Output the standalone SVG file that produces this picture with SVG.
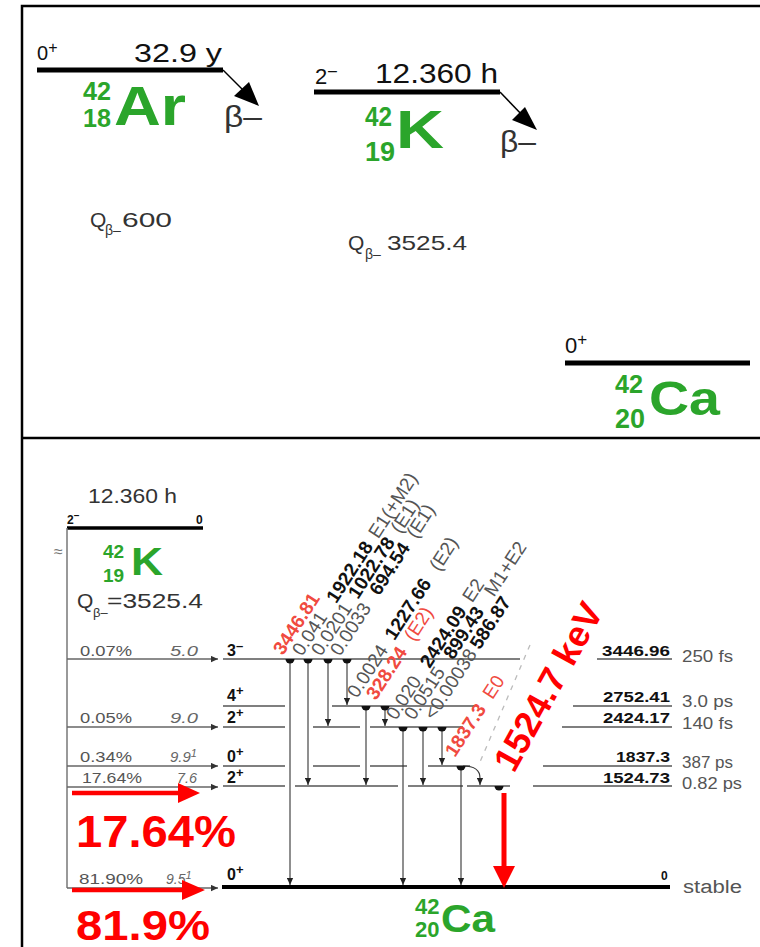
<svg xmlns="http://www.w3.org/2000/svg" width="760" height="947" viewBox="0 0 760 947">
<style>
text{font-family:"Liberation Sans",Arial,Helvetica,sans-serif}
.k{fill:#111}
.g{fill:#2ba52b;font-weight:bold}
.gr{fill:#555}
.b{font-weight:bold;fill:#111}
.it{font-style:italic;fill:#666}
.rd{fill:#f04a40}
.rdb{fill:#f04a40;font-weight:bold}
.RD{fill:#ff0000;font-weight:bold}
.lv{stroke:#555;stroke-width:1.6;fill:none}
.tr{stroke:#333;stroke-width:1.1;fill:none}
.fd{stroke:#666;stroke-width:1.4;fill:none}
.thick{stroke:#000;stroke-width:5;fill:none}
</style>
<defs>
<marker id="ah" viewBox="0 0 10 10" refX="10" refY="5" markerWidth="8" markerHeight="7" markerUnits="userSpaceOnUse" orient="auto"><path d="M0,0.5 L10,5 L0,9.5z" fill="#222"/></marker>
<marker id="fa" viewBox="0 0 10 10" refX="10" refY="5" markerWidth="9" markerHeight="7" markerUnits="userSpaceOnUse" orient="auto"><path d="M0,0.5 L10,5 L0,9.5z" fill="#333"/></marker>
</defs>
<rect width="760" height="947" fill="#fff"/>
<path d="M22,947 V6 H760 M22,438 H760" stroke="#000" stroke-width="2.5" fill="none"/>

<!-- top panel -->
<g id="ar42">
<line x1="37" y1="70" x2="223" y2="70" class="thick"/>
<text x="37" y="60" font-size="20" class="k">0<tspan dy="-7" font-size="16">+</tspan></text>
<text x="134" y="62" font-size="26" class="k" textLength="88" lengthAdjust="spacingAndGlyphs">32.9 y</text>
<text x="83" y="100" font-size="26" class="g" textLength="28" lengthAdjust="spacingAndGlyphs">42</text>
<text x="83" y="127" font-size="26" class="g" textLength="28" lengthAdjust="spacingAndGlyphs">18</text>
<text x="114" y="125" font-size="56" class="g" textLength="72" lengthAdjust="spacingAndGlyphs">Ar</text>
<text x="90" y="227" font-size="21" fill="#333">Q</text>
<text x="105" y="235" font-size="14" fill="#333">β–</text>
<text x="122" y="227" font-size="21" fill="#333" textLength="50" lengthAdjust="spacingAndGlyphs">600</text>
</g>
<g id="k42top">
<line x1="314" y1="92" x2="500" y2="92" class="thick"/>
<text x="315" y="84" font-size="22" class="k">2</text>
<text x="328" y="76" font-size="16" class="k">–</text>
<text x="375" y="83" font-size="28" class="k" textLength="123" lengthAdjust="spacingAndGlyphs">12.360 h</text>
<text x="365" y="126" font-size="27" class="g" textLength="27" lengthAdjust="spacingAndGlyphs">42</text>
<text x="365" y="161" font-size="28" class="g" textLength="30" lengthAdjust="spacingAndGlyphs">19</text>
<text x="396" y="148" font-size="54" class="g" textLength="48" lengthAdjust="spacingAndGlyphs">K</text>
<text x="348" y="250" font-size="21" fill="#333">Q</text>
<text x="365" y="259" font-size="14" fill="#333">β–</text>
<text x="387" y="250" font-size="21" fill="#333" textLength="80" lengthAdjust="spacingAndGlyphs">3525.4</text>
</g>
<g id="ca42top">
<line x1="565" y1="363" x2="750" y2="363" class="thick"/>
<text x="565" y="353" font-size="22" class="k">0<tspan dy="-8" font-size="17">+</tspan></text>
<text x="615" y="393" font-size="26" class="g" textLength="28" lengthAdjust="spacingAndGlyphs">42</text>
<text x="615" y="428" font-size="28" class="g" textLength="30" lengthAdjust="spacingAndGlyphs">20</text>
<text x="649" y="415" font-size="48" class="g" textLength="71" lengthAdjust="spacingAndGlyphs">Ca</text>
</g>
<g id="decay-arrows-top">
<line x1="223" y1="70" x2="248" y2="95" stroke="#000" stroke-width="1.5"/>
<polygon points="259,106 234,96 249,82" fill="#000"/>
<text x="224" y="127" font-size="30" fill="#333" textLength="38" lengthAdjust="spacingAndGlyphs">β–</text>
<line x1="500" y1="92" x2="525" y2="118" stroke="#000" stroke-width="1.5"/>
<polygon points="537,130 512,120 525,107" fill="#000"/>
<text x="500" y="152" font-size="30" fill="#333" textLength="36" lengthAdjust="spacingAndGlyphs">β–</text>
</g>

<!-- bottom panel -->
<g id="k42">
<text x="88" y="503" font-size="21" fill="#333" textLength="89" lengthAdjust="spacingAndGlyphs">12.360 h</text>
<line x1="67" y1="528" x2="203" y2="528" stroke="#000" stroke-width="3.5"/>
<text x="67" y="524" font-size="12" class="b">2<tspan dy="-5" font-size="10">–</tspan></text>
<text x="196" y="524" font-size="12" class="b">0</text>
<text x="103" y="558" font-size="19" class="g">42</text>
<text x="103" y="582" font-size="19" class="g">19</text>
<text x="131" y="575" font-size="38" class="g" textLength="32" lengthAdjust="spacingAndGlyphs">K</text>
<text x="77" y="608" font-size="21" fill="#333">Q</text>
<text x="93" y="617" font-size="13" fill="#333">β–</text>
<text x="107" y="608" font-size="21" fill="#333" textLength="96" lengthAdjust="spacingAndGlyphs">=3525.4</text>
<text x="54" y="557" font-size="16" fill="#777">≈</text>
</g>

<g id="levels">
<path class="lv" d="M223,659 H520 M597,659 H672"/>
<path class="lv" d="M223,706 H285 M332,706 H475 M573,706 H672"/>
<path class="lv" d="M223,727 H285 M313,727 H360 M370,727 H463 M562,727 H672"/>
<path class="lv" d="M223,766 H285 M313,766 H360 M370,766 H407 M428,766 H470 M543,766 H672"/>
<path class="lv" d="M223,786 H285 M295,786 H398 M408,786 H463 M467,786 H510 M533,786 H672"/>
<line x1="222" y1="887" x2="670" y2="887" stroke="#000" stroke-width="4"/>
</g>

<g id="level-labels-left" font-size="15">
<text x="80" y="656" class="gr" textLength="52" lengthAdjust="spacingAndGlyphs">0.07%</text>
<text x="170" y="656" class="it" textLength="28" lengthAdjust="spacingAndGlyphs">5.0</text>
<text x="227" y="656" font-size="16" class="b">3<tspan dy="-6" font-size="13">–</tspan></text>
<text x="227" y="701" font-size="16" class="b">4<tspan dy="-6" font-size="13">+</tspan></text>
<text x="80" y="723" class="gr" textLength="52" lengthAdjust="spacingAndGlyphs">0.05%</text>
<text x="170" y="723" class="it" textLength="28" lengthAdjust="spacingAndGlyphs">9.0</text>
<text x="227" y="723" font-size="16" class="b">2<tspan dy="-6" font-size="13">+</tspan></text>
<text x="80" y="762" class="gr" textLength="52" lengthAdjust="spacingAndGlyphs">0.34%</text>
<text x="170" y="762" class="it">9.9<tspan dy="-5" font-size="11">1</tspan></text>
<text x="227" y="762" font-size="16" class="b">0<tspan dy="-6" font-size="13">+</tspan></text>
<text x="82" y="783" class="gr" textLength="60" lengthAdjust="spacingAndGlyphs">17.64%</text>
<text x="177" y="783" class="it" textLength="20" lengthAdjust="spacingAndGlyphs">7.6</text>
<text x="227" y="783" font-size="16" class="b">2<tspan dy="-6" font-size="13">+</tspan></text>
<text x="79" y="884" font-size="14" class="gr" textLength="64" lengthAdjust="spacingAndGlyphs">81.90%</text>
<text x="166" y="884" font-size="14" class="it">9.5<tspan dy="-5" font-size="11">1</tspan></text>
<text x="227" y="880" font-size="16" class="b">0<tspan dy="-6" font-size="13">+</tspan></text>
</g>

<g id="level-labels-right">
<text x="670" y="656" font-size="15" class="b" text-anchor="end" textLength="68" lengthAdjust="spacingAndGlyphs">3446.96</text>
<text x="682" y="662" font-size="16" class="gr" textLength="51" lengthAdjust="spacingAndGlyphs">250 fs</text>
<text x="670" y="702" font-size="15" class="b" text-anchor="end" textLength="67" lengthAdjust="spacingAndGlyphs">2752.41</text>
<text x="682" y="707" font-size="16" class="gr" textLength="51" lengthAdjust="spacingAndGlyphs">3.0 ps</text>
<text x="670" y="723" font-size="15" class="b" text-anchor="end" textLength="67" lengthAdjust="spacingAndGlyphs">2424.17</text>
<text x="682" y="729" font-size="16" class="gr" textLength="51" lengthAdjust="spacingAndGlyphs">140 fs</text>
<text x="670" y="762" font-size="15" class="b" text-anchor="end" textLength="54" lengthAdjust="spacingAndGlyphs">1837.3</text>
<text x="682" y="768" font-size="16" class="gr" textLength="51" lengthAdjust="spacingAndGlyphs">387 ps</text>
<text x="670" y="783" font-size="15" class="b" text-anchor="end" textLength="67" lengthAdjust="spacingAndGlyphs">1524.73</text>
<text x="682" y="789" font-size="16" class="gr" textLength="60" lengthAdjust="spacingAndGlyphs">0.82 ps</text>
<text x="661" y="880" font-size="12" class="b">0</text>
<text x="683" y="893" font-size="18" class="gr" textLength="59" lengthAdjust="spacingAndGlyphs">stable</text>
</g>

<g id="ca42">
<text x="415" y="914" font-size="22" class="g">42</text>
<text x="415" y="937" font-size="22" class="g">20</text>
<text x="441" y="932" font-size="38" class="g" textLength="54" lengthAdjust="spacingAndGlyphs">Ca</text>
</g>

<g id="connectors">
<line x1="67" y1="528" x2="67" y2="888" stroke="#777" stroke-width="1.5"/>
<line class="fd" x1="67" y1="659" x2="218" y2="659" marker-end="url(#fa)"/>
<line class="fd" x1="67" y1="727" x2="218" y2="727" marker-end="url(#fa)"/>
<line class="fd" x1="67" y1="766" x2="218" y2="766" marker-end="url(#fa)"/>
<line class="fd" x1="67" y1="787" x2="218" y2="787" marker-end="url(#fa)"/>
<line class="fd" x1="67" y1="888" x2="218" y2="888" marker-end="url(#fa)"/>
<line class="tr" x1="290" y1="659" x2="290" y2="885" marker-end="url(#ah)"/>
<line class="tr" x1="308" y1="659" x2="308" y2="785" marker-end="url(#ah)"/>
<line class="tr" x1="328" y1="659" x2="328" y2="726" marker-end="url(#ah)"/>
<line class="tr" x1="347" y1="659" x2="347" y2="705" marker-end="url(#ah)"/>
<line class="tr" x1="366" y1="706" x2="366" y2="785" marker-end="url(#ah)"/>
<line class="tr" x1="385" y1="706" x2="385" y2="726" marker-end="url(#ah)"/>
<line class="tr" x1="403" y1="727" x2="403" y2="885" marker-end="url(#ah)"/>
<line class="tr" x1="423" y1="727" x2="423" y2="785" marker-end="url(#ah)"/>
<line class="tr" x1="442" y1="727" x2="442" y2="765" marker-end="url(#ah)"/>
<line class="tr" x1="461" y1="766" x2="461" y2="885" marker-end="url(#ah)"/>
<path class="tr" d="M463,766 Q480,766 480,778 V785" marker-end="url(#ah)"/>
<g fill="#111">
<path d="M285.5,659 a4.5,4.5 0 0 0 9,0z"/>
<path d="M303.5,659 a4.5,4.5 0 0 0 9,0z"/>
<path d="M323.5,659 a4.5,4.5 0 0 0 9,0z"/>
<path d="M342.5,659 a4.5,4.5 0 0 0 9,0z"/>
<path d="M361.5,706 a4.5,4.5 0 0 0 9,0z"/>
<path d="M380.5,706 a4.5,4.5 0 0 0 9,0z"/>
<path d="M398.5,727 a4.5,4.5 0 0 0 9,0z"/>
<path d="M418.5,727 a4.5,4.5 0 0 0 9,0z"/>
<path d="M437.5,727 a4.5,4.5 0 0 0 9,0z"/>
<path d="M456.5,766 a4.5,4.5 0 0 0 9,0z"/>
<path d="M494.5,786 a4.5,4.5 0 0 0 9,0z"/>
</g>
<line x1="504" y1="793" x2="504" y2="868" stroke="#ff0000" stroke-width="5"/>
<polygon points="504,888 493,866 515,866" fill="#ff0000"/>
<line x1="72" y1="793" x2="180" y2="793" stroke="#ff0000" stroke-width="4.5"/>
<polygon points="200,793 178,783 178,803" fill="#ff0000"/>
<line x1="72" y1="890" x2="184" y2="890" stroke="#ff0000" stroke-width="4.5"/>
<polygon points="205,890 182,880 182,900" fill="#ff0000"/>
<line x1="530" y1="645" x2="480" y2="762" stroke="#bbb" stroke-width="1.3" stroke-dasharray="5 6"/>
</g>

<g id="gamma-labels" font-size="19">
<text transform="translate(283,656) rotate(-57)" class="rdb">3446.81</text>
<text transform="translate(302,657) rotate(-57)"><tspan class="gr">0.041</tspan><tspan x="63" class="b">1922.18</tspan><tspan x="140" class="gr">E1(+M2)</tspan></text>
<text transform="translate(321,657) rotate(-57)"><tspan class="gr">0.0201</tspan><tspan x="68" class="b">1022.78</tspan><tspan x="146" class="gr">(E1)</tspan></text>
<text transform="translate(340,657) rotate(-57)"><tspan class="gr">0.0033</tspan><tspan x="72" class="b">694.54</tspan><tspan x="140" class="gr">(E1)</tspan></text>
<text transform="translate(357,699) rotate(-57)"><tspan class="gr">0.0024</tspan><tspan x="69" class="b">1227.66</tspan><tspan x="151" class="gr">(E2)</tspan></text>
<text transform="translate(376,701) rotate(-57)"><tspan class="rdb">328.24</tspan><tspan x="70" class="rd">(E2)</tspan></text>
<text transform="translate(396,721) rotate(-57)"><tspan class="gr">0.020</tspan><tspan x="62" class="b">2424.09</tspan><tspan x="140" class="gr">E2</tspan></text>
<text transform="translate(414,721) rotate(-57)"><tspan class="gr">0.0515</tspan><tspan x="72" class="b">899.43</tspan><tspan x="147" class="gr">M1+E2</tspan></text>
<text transform="translate(434,721) rotate(-57)"><tspan class="gr">&lt;0.00038</tspan><tspan x="84" class="b">586.87</tspan></text>
<text transform="translate(455,758) rotate(-57)"><tspan class="rdb">1837.3</tspan><tspan x="69" class="rd">E0</tspan></text>
<text transform="translate(514,774) rotate(-61)" font-size="36" class="RD" textLength="186" lengthAdjust="spacingAndGlyphs">1524.7 keV</text>
</g>

<g id="branching">
<text x="76" y="847" font-size="44" class="RD" textLength="160" lengthAdjust="spacingAndGlyphs">17.64%</text>
<text x="76" y="940" font-size="42" class="RD" textLength="134" lengthAdjust="spacingAndGlyphs">81.9%</text>
</g>
</svg>
